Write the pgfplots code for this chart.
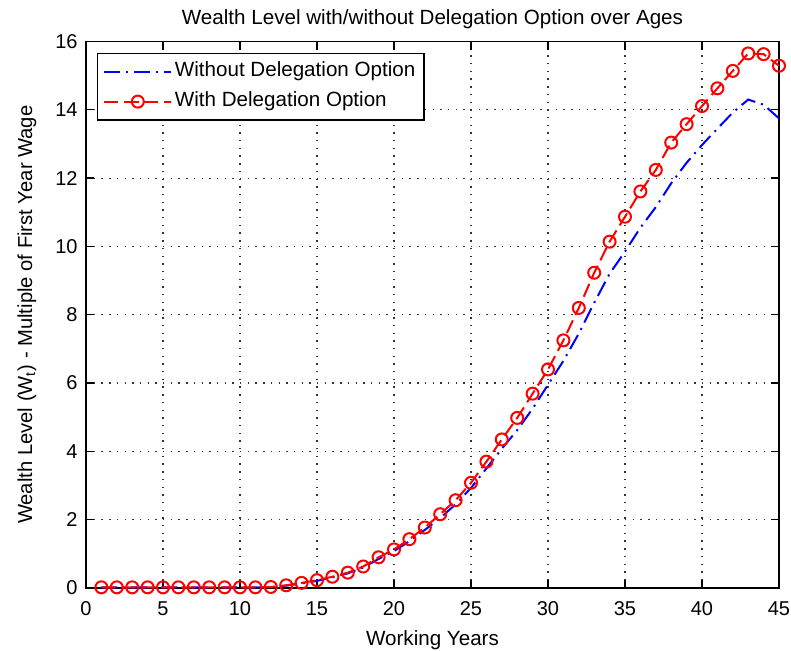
\documentclass[border=0pt]{standalone}
\usepackage{fontspec}
\setmainfont{Liberation Sans}
\usepackage{pgfplots}
\pgfplotsset{compat=1.18}
\begin{document}
\begin{tikzpicture}
\begin{axis}[
  at={(0,0)}, anchor=south west,
  scale only axis, width=346.5pt, height=273.25pt,
  xmin=0, xmax=45, ymin=0, ymax=16,
  xtick={0,5,...,45}, ytick={0,2,...,16},
  grid=major,
  major grid style={black!80, line width=0.6pt, dash pattern=on 0.7pt off 3.15pt},
  axis line style={black, line width=0.75pt},
  tick style={black, line width=0.65pt}, major tick length=4pt,
  /pgf/number format/assume math mode=true,
  tick label style={font=\fontsize{10}{12}\selectfont},
  x tick label style={anchor=base, yshift=-13.5pt},
  y tick label style={anchor=east, inner sep=0pt, xshift=-4pt},
  every axis title shift=0pt,
  title style={font=\fontsize{10.3}{12}\selectfont, at={(axis description cs:0.5,1)}, anchor=base, yshift=8.3pt},
  title={Wealth Level with/without Delegation Option over Ages},
  xlabel={Working Years},
  xlabel style={font=\fontsize{10.3}{12}\selectfont, at={(axis description cs:0.5,0)}, anchor=base, yshift=-28.5pt},
  ylabel={Wealth Level (W\textsubscript{t}) - Multiple of First Year Wage},
  ylabel style={font=\fontsize{10.1}{12}\selectfont, at={(axis description cs:-0.0779,0.5)}, anchor=base, rotate=0},
  legend style={at={(0,1)}, anchor=north west, xshift=5.35pt, yshift=-5.6pt,
    font=\fontsize{10.3}{12}\selectfont, draw=black, line width=0.6pt,
    row sep=0pt, inner xsep=3pt, inner ysep=1.65pt,
    nodes={inner xsep=1.3pt, inner ysep=2.5pt, text height=7.6pt, text depth=2.4pt}},
  legend cell align=left,
  legend image code/.code={\draw[#1, mark repeat=2, mark phase=2] plot coordinates {(0pt,0pt) (16.75pt,0pt) (33.5pt,0pt)};},
]
\addplot[blue, line width=1pt, dash pattern=on 8pt off 3pt on 1pt off 3pt] table {
x y
1 0.02
2 0.02
3 0.02
4 0.02
5 0.02
6 0.02
7 0.02
8 0.02
9 0.02
10 0.02
11 0.02
12 0.02
13 0.07
14 0.13
15 0.21
16 0.31
17 0.43
18 0.60
19 0.85
20 1.08
21 1.37
22 1.70
23 2.05
24 2.45
25 2.93
26 3.50
27 4.08
28 4.62
29 5.25
30 5.95
31 6.65
32 7.45
33 8.35
34 9.20
35 9.85
36 10.55
37 11.15
38 11.85
39 12.45
40 12.97
41 13.45
42 13.92
43 14.30
44 14.15
45 13.75
};
\addlegendentry{Without Delegation Option}
\addplot[red, line width=1pt, dash pattern=on 7pt off 3pt, mark=o, mark size=3pt, mark options={solid, line width=1pt}] table {
x y
1 0.02
2 0.02
3 0.02
4 0.02
5 0.02
6 0.02
7 0.02
8 0.02
9 0.02
10 0.02
11 0.02
12 0.03
13 0.08
14 0.15
15 0.23
16 0.33
17 0.45
18 0.63
19 0.90
20 1.13
21 1.43
22 1.77
23 2.16
24 2.57
25 3.08
26 3.70
27 4.35
28 4.98
29 5.69
30 6.40
31 7.25
32 8.20
33 9.23
34 10.14
35 10.87
36 11.61
37 12.24
38 13.04
39 13.58
40 14.11
41 14.63
42 15.14
43 15.65
44 15.63
45 15.29
};
\addlegendentry{With Delegation Option}
\end{axis}
\pgfresetboundingbox
\path[use as bounding box] ([xshift=-43pt,yshift=-31pt]current axis.south west) rectangle ([xshift=6pt,yshift=20.75pt]current axis.north east);
\end{tikzpicture}
\end{document}
